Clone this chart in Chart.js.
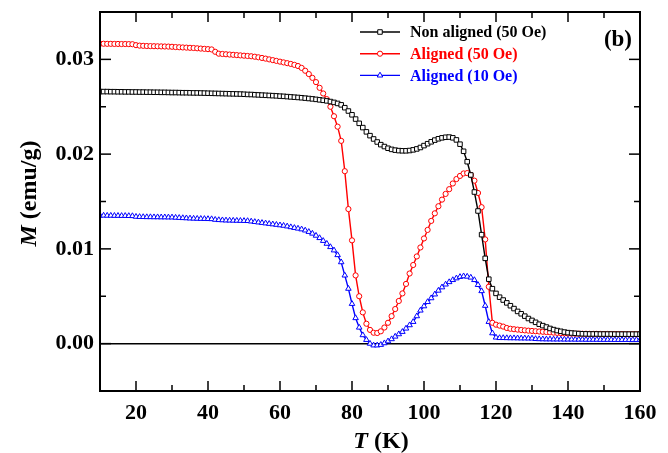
<!DOCTYPE html>
<html>
<head>
<meta charset="utf-8">
<script src="https://cdn.jsdelivr.net/npm/chart.js@4"></script>
<style>
  html, body { margin: 0; padding: 0; background: #fff; }
  #wrap { width: 668px; height: 453px; }
</style>
</head>
<body>
<div id="wrap"><canvas id="mtChart" width="668" height="453"></canvas></div>
<script>
// temperature grid (K), 1 K steps
const temps = Array.from({length: 151}, (_, i) => 10 + i);

const nonAligned50 = [
  0.02660, 0.02660, 0.02660, 0.02659, 0.02659, 0.02658, 0.02658, 0.02657, 0.02657, 0.02656,
  0.02656, 0.02655, 0.02655, 0.02654, 0.02654, 0.02653, 0.02653, 0.02652, 0.02652, 0.02651,
  0.02650, 0.02650, 0.02649, 0.02648, 0.02648, 0.02647, 0.02646, 0.02646, 0.02645, 0.02644,
  0.02643, 0.02642, 0.02641, 0.02640, 0.02639, 0.02638, 0.02637, 0.02636, 0.02635, 0.02634,
  0.02632, 0.02630, 0.02629, 0.02627, 0.02625, 0.02623, 0.02621, 0.02619, 0.02617, 0.02615,
  0.02612, 0.02610, 0.02607, 0.02604, 0.02601, 0.02598, 0.02595, 0.02591, 0.02587, 0.02583,
  0.02578, 0.02573, 0.02568, 0.02562, 0.02555, 0.02546, 0.02535, 0.02520, 0.02490, 0.02455,
  0.02415, 0.02370, 0.02325, 0.02280, 0.02235, 0.02195, 0.02160, 0.02128, 0.02100, 0.02080,
  0.02062, 0.02050, 0.02042, 0.02037, 0.02035, 0.02035, 0.02038, 0.02045, 0.02055, 0.02070,
  0.02090, 0.02110, 0.02130, 0.02148, 0.02162, 0.02172, 0.02178, 0.02180, 0.02172, 0.02150,
  0.02105, 0.02030, 0.01920, 0.01780, 0.01600, 0.01400, 0.01150, 0.00900, 0.00680, 0.00580,
  0.00530, 0.00490, 0.00460, 0.00430, 0.00400, 0.00370, 0.00340, 0.00315, 0.00290, 0.00265,
  0.00245, 0.00225, 0.00205, 0.00190, 0.00175, 0.00160, 0.00148, 0.00138, 0.00130, 0.00122,
  0.00116, 0.00112, 0.00109, 0.00106, 0.00104, 0.00103, 0.00102, 0.00102, 0.00102, 0.00101,
  0.00101, 0.00101, 0.00101, 0.00100, 0.00100, 0.00100, 0.00100, 0.00100, 0.00100, 0.00100,
  0.00100
];

const aligned50 = [
  0.03165, 0.03165, 0.03164, 0.03164, 0.03163, 0.03163, 0.03162, 0.03162, 0.03161, 0.03160,
  0.03150, 0.03145, 0.03143, 0.03141, 0.03140, 0.03139, 0.03138, 0.03137, 0.03136, 0.03135,
  0.03133, 0.03130, 0.03128, 0.03126, 0.03124, 0.03122, 0.03120, 0.03117, 0.03114, 0.03111,
  0.03108, 0.03105, 0.03080, 0.03060, 0.03057, 0.03054, 0.03051, 0.03048, 0.03045, 0.03042,
  0.03039, 0.03036, 0.03033, 0.03028, 0.03022, 0.03015, 0.03008, 0.03000, 0.02992, 0.02984,
  0.02976, 0.02968, 0.02960, 0.02952, 0.02942, 0.02930, 0.02910, 0.02880, 0.02845, 0.02805,
  0.02760, 0.02700, 0.02640, 0.02580, 0.02500, 0.02400, 0.02290, 0.02140, 0.01820, 0.01420,
  0.01090, 0.00720, 0.00500, 0.00330, 0.00210, 0.00145, 0.00115, 0.00112, 0.00130, 0.00170,
  0.00220, 0.00290, 0.00365, 0.00450, 0.00530, 0.00630, 0.00740, 0.00830, 0.00920, 0.01015,
  0.01110, 0.01200, 0.01295, 0.01375, 0.01450, 0.01520, 0.01580, 0.01630, 0.01690, 0.01737,
  0.01770, 0.01796, 0.01800, 0.01780, 0.01720, 0.01590, 0.01440, 0.01100, 0.00600, 0.00220,
  0.00200, 0.00190, 0.00180, 0.00165, 0.00157, 0.00152, 0.00148, 0.00144, 0.00140, 0.00137,
  0.00134, 0.00131, 0.00128, 0.00125, 0.00122, 0.00119, 0.00116, 0.00113, 0.00111, 0.00109,
  0.00107, 0.00106, 0.00105, 0.00105, 0.00104, 0.00104, 0.00103, 0.00103, 0.00103, 0.00102,
  0.00102, 0.00102, 0.00101, 0.00101, 0.00101, 0.00101, 0.00100, 0.00100, 0.00100, 0.00100,
  0.00100
];

const aligned10 = [
  0.01352, 0.01352, 0.01351, 0.01351, 0.01350, 0.01350, 0.01349, 0.01349, 0.01348, 0.01347,
  0.01340, 0.01338, 0.01337, 0.01336, 0.01336, 0.01335, 0.01335, 0.01334, 0.01334, 0.01333,
  0.01333, 0.01330, 0.01328, 0.01326, 0.01324, 0.01322, 0.01320, 0.01319, 0.01318, 0.01317,
  0.01316, 0.01315, 0.01308, 0.01305, 0.01303, 0.01301, 0.01300, 0.01299, 0.01298, 0.01297,
  0.01296, 0.01295, 0.01290, 0.01285, 0.01280, 0.01275, 0.01270, 0.01265, 0.01260, 0.01255,
  0.01250, 0.01245, 0.01238, 0.01230, 0.01222, 0.01215, 0.01207, 0.01195, 0.01180, 0.01162,
  0.01140, 0.01115, 0.01085, 0.01055, 0.01020, 0.00985, 0.00935, 0.00860, 0.00720, 0.00580,
  0.00420, 0.00270, 0.00170, 0.00090, 0.00040, 0.00000, -0.00018, -0.00018, -0.00012, 0.00005,
  0.00025, 0.00048, 0.00075, 0.00100, 0.00125, 0.00160, 0.00195, 0.00230, 0.00290, 0.00350,
  0.00395, 0.00440, 0.00480, 0.00520, 0.00560, 0.00595, 0.00625, 0.00650, 0.00672, 0.00690,
  0.00705, 0.00712, 0.00708, 0.00698, 0.00672, 0.00620, 0.00555, 0.00400, 0.00230, 0.00110,
  0.00065, 0.00060, 0.00060, 0.00059, 0.00058, 0.00058, 0.00057, 0.00056, 0.00056, 0.00055,
  0.00055, 0.00050, 0.00048, 0.00047, 0.00046, 0.00046, 0.00045, 0.00045, 0.00045, 0.00044,
  0.00044, 0.00044, 0.00043, 0.00043, 0.00043, 0.00042, 0.00042, 0.00042, 0.00042, 0.00041,
  0.00041, 0.00041, 0.00041, 0.00040, 0.00040, 0.00040, 0.00040, 0.00040, 0.00040, 0.00040,
  0.00040
];

const seriesNames = ['Non aligned (50 Oe)', 'Aligned (50 Oe)', 'Aligned (10 Oe)'];
const seriesColors = ['#000000', '#ff0000', '#0000ff'];
const seriesMarkers = ['rect', 'circle', 'triangle'];
const markerSizes = [3.2, 2.6, 3.2];
const seriesValues = [nonAligned50, aligned50, aligned10];

const serif = "'Liberation Serif', 'Times New Roman', serif";

const datasets = seriesValues.map((vals, k) => ({
  label: seriesNames[k],
  data: vals.map((v, i) => ({x: temps[i], y: v})),
  borderColor: seriesColors[k],
  borderWidth: 1.4,
  pointStyle: seriesMarkers[k],
  pointRadius: markerSizes[k],
  pointBorderWidth: 1,
  pointBorderColor: seriesColors[k],
  pointBackgroundColor: '#ffffff',
  tension: 0,
  fill: false
}));

// frame, inward ticks, axis titles, legend and panel tag
const decorations = {
  id: 'decorations',
  afterDraw(chart) {
    const {ctx, chartArea: a, scales: {x, y}} = chart;
    ctx.save();
    ctx.strokeStyle = '#000';
    ctx.lineWidth = 1.5;
    const seg = (x1, y1, x2, y2) => { ctx.beginPath(); ctx.moveTo(x1, y1); ctx.lineTo(x2, y2); ctx.stroke(); };

    x.ticks.forEach(t => {
      const px = x.getPixelForValue(t.value);
      if (px <= a.left + 1 || px >= a.right - 1) return;
      const len = t.value % 20 === 0 ? 10 : 6;
      seg(px, a.bottom, px, a.bottom - len);
      seg(px, a.top, px, a.top + len);
    });
    y.ticks.forEach(t => {
      const py = y.getPixelForValue(t.value);
      if (py <= a.top + 1 || py >= a.bottom - 1) return;
      const len = Math.round(t.value * 1000) % 10 === 0 ? 11 : 6;
      seg(a.left, py, a.left + len, py);
      seg(a.right, py, a.right - len, py);
    });

    ctx.lineWidth = 2;
    ctx.strokeRect(a.left, a.top, a.right - a.left, a.bottom - a.top);

    // axis titles with italic symbol
    ctx.fillStyle = '#000';
    ctx.textBaseline = 'alphabetic';
    const drawTitle = (sym, rest) => {
      ctx.font = `italic bold 24px ${serif}`;
      const w1 = ctx.measureText(sym).width;
      ctx.font = `bold 24px ${serif}`;
      const w2 = ctx.measureText(rest).width;
      const x0 = -(w1 + w2) / 2;
      ctx.font = `italic bold 24px ${serif}`;
      ctx.fillText(sym, x0, 0);
      ctx.font = `bold 24px ${serif}`;
      ctx.fillText(rest, x0 + w1, 0);
    };
    ctx.save();
    ctx.translate(36, (a.top + a.bottom) / 2 - 8);
    ctx.rotate(-Math.PI / 2);
    drawTitle('M', ' (emu/g)');
    ctx.restore();
    ctx.save();
    ctx.translate((a.left + a.right) / 2 + 11, 448);
    drawTitle('T', ' (K)');
    ctx.restore();

    // legend
    ctx.textBaseline = 'middle';
    ctx.font = `bold 16px ${serif}`;
    chart.data.datasets.forEach((ds, k) => {
      const ly = a.top + 20 + k * 21.7;
      const lx = 360;
      ctx.strokeStyle = ds.borderColor;
      ctx.lineWidth = 1.4;
      seg(lx, ly, lx + 40, ly);
      ctx.fillStyle = '#ffffff';
      ctx.lineWidth = 1;
      Chart.helpers.drawPoint(ctx, {
        pointStyle: ds.pointStyle, radius: ds.pointRadius, borderWidth: 1, rotation: 0
      }, lx + 20, ly);
      ctx.fillStyle = ds.borderColor;
      ctx.fillText(ds.label, 410, ly + 1);
    });

    ctx.font = `bold 23px ${serif}`;
    ctx.fillStyle = '#000';
    ctx.textAlign = 'right';
    ctx.fillText('(b)', a.right - 8, a.top + 28);
    ctx.restore();
  }
};

new Chart(document.getElementById('mtChart').getContext('2d'), {
  type: 'line',
  data: { datasets: datasets },
  options: {
    responsive: false,
    animation: false,
    layout: { padding: { top: 12, right: 28, left: 0, bottom: 0 } },
    plugins: {
      legend: { display: false },
      tooltip: { enabled: false }
    },
    scales: {
      x: {
        type: 'linear',
        min: 10,
        max: 160,
        border: { display: false },
        grid: { display: false, drawTicks: false },
        ticks: {
          stepSize: 10,
          autoSkip: false,
          maxRotation: 0,
          padding: 9,
          color: '#000',
          font: { family: serif, size: 22, weight: 'bold' },
          callback: v => (v % 20 === 0 ? v : '')
        },
        afterFit: s => { s.height = 62; }
      },
      y: {
        min: -0.005,
        max: 0.035,
        border: { display: false },
        grid: {
          drawTicks: false,
          color: c => (c.tick && Math.abs(c.tick.value) < 1e-9 ? '#000' : 'rgba(0,0,0,0)'),
          lineWidth: 1.4
        },
        ticks: {
          stepSize: 0.005,
          autoSkip: false,
          padding: 6,
          color: '#000',
          font: { family: serif, size: 22, weight: 'bold' },
          callback: v => {
            const m = Math.round(v * 1000);
            return (m % 10 === 0 && m >= 0 && m <= 30) ? (m / 1000).toFixed(2) : '';
          }
        },
        afterFit: s => { s.width = 100; s.paddingTop = 0; s.paddingBottom = 0; }
      }
    }
  },
  plugins: [decorations]
});
</script>
</body>
</html>
